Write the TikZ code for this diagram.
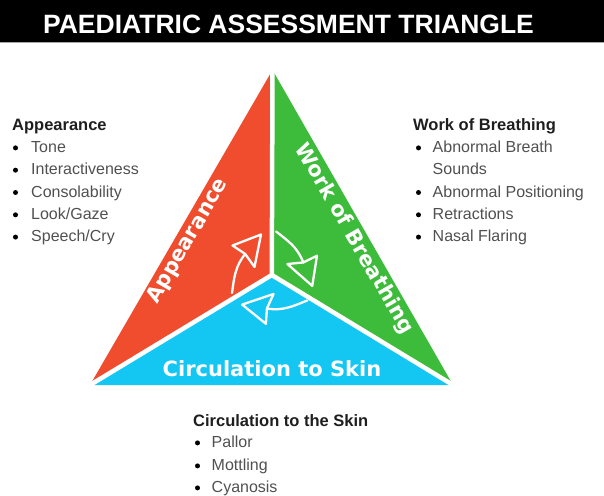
\documentclass[tikz,border=0pt]{standalone}
\usepackage{fontspec}
\setmainfont{Liberation Sans}
\newfontfamily\labelfont{DejaVu Sans}
\usetikzlibrary{calc}
\definecolor{pred}{HTML}{F04C2E}
\definecolor{pgreen}{HTML}{3DBB3B}
\definecolor{pblue}{HTML}{14C6F2}
\definecolor{itemgray}{HTML}{505050}
\definecolor{headgray}{HTML}{1E1E1E}
\begin{document}
\begin{tikzpicture}[x=1pt,y=1pt,
  listhead/.style={font=\fontsize{16.5}{19}\selectfont\bfseries, text=headgray, anchor=base west, inner sep=0},
  listitem/.style={font=\fontsize{16}{19}\selectfont, text=itemgray, anchor=base west, inner sep=0},
  trilabel/.style={font=\labelfont\bfseries\fontsize{21}{24}\selectfont, text=white, inner sep=0},
  cycline/.style={white, line width=2.3pt, line join=round, line cap=round},
  divider/.style={white, line width=4.5pt}
]
\useasboundingbox (0,0) rectangle (604,495);
% title bar
\fill[black] (0,453) rectangle (604,495);
\fill[gray!70] (0,451.5) rectangle (604,453);
\node[font=\fontsize{26.5}{30}\selectfont\bfseries, text=white, anchor=base, inner sep=0] (title) at (288.5,461.5) {PAEDIATRIC ASSESSMENT TRIANGLE};

% triangle
\coordinate (A) at (272.5,425);
\coordinate (L) at (90,110);
\coordinate (R) at (453,110);
\coordinate (C) at (271.8,220);
\fill[pred] (A) -- (L) -- (C) -- cycle;
\fill[pgreen] (A) -- (C) -- (R) -- cycle;
\fill[pblue] (L) -- (R) -- (C) -- cycle;
\draw[divider] (C) -- (A);
\draw[divider] (C) -- (L);
\draw[divider] (C) -- (R);

% cycle arrows (one shape, turned by 120 degrees twice)
\foreach \ang in {0,-120,-240}{
  \begin{scope}[rotate around={\ang:(C)}]
    \draw[cycline] (232,202) to[out=82,in=231] (245.2,241);
    \draw[cycline] (261,260.5) -- (232.5,249.5) -- (245.2,241) -- (254.5,228) -- cycle;
  \end{scope}
}

% triangle labels
\node[trilabel, rotate=60] (app) at (188,254) {Appearance};
\node[trilabel, rotate=-60] (wob) at (354,256) {Work of Breathing};
\node[trilabel, anchor=base] (circ) at (272,118) {Circulation to Skin};

% left list
\node[listhead] (lh) at (12,364.3) {Appearance};
\node[listitem] (l1) at (31,342.3) {Tone};
\node[listitem] (l2) at (31,320) {Interactiveness};
\node[listitem] (l3) at (31,297.7) {Consolability};
\node[listitem] (l4) at (31,275.4) {Look/Gaze};
\node[listitem] (l5) at (31,253.1) {Speech/Cry};
\foreach \yy in {342.3,320,297.7,275.4,253.1} \fill[black] (15.5,\yy+4.8) circle (2.5);

% right list
\node[listhead] (rh) at (413,364.3) {Work of Breathing};
\node[listitem] (r1) at (432.5,342.3) {Abnormal Breath};
\node[listitem] (r1b) at (432.5,320) {Sounds};
\node[listitem] (r2) at (432.5,297.7) {Abnormal Positioning};
\node[listitem] (r3) at (432.5,275.4) {Retractions};
\node[listitem] (r4) at (432.5,253.1) {Nasal Flaring};
\foreach \yy in {342.3,297.7,275.4,253.1} \fill[black] (418.5,\yy+4.8) circle (2.5);

% bottom list
\node[listhead] (bh) at (193,69) {Circulation to the Skin};
\node[listitem] (b1) at (211.5,47.3) {Pallor};
\node[listitem] (b2) at (211.5,24.3) {Mottling};
\node[listitem] (b3) at (211.5,2.3) {Cyanosis};
\foreach \yy in {47.3,24.3,2.3} \fill[black] (197.5,\yy+4.8) circle (2.5);
\end{tikzpicture}
\end{document}
